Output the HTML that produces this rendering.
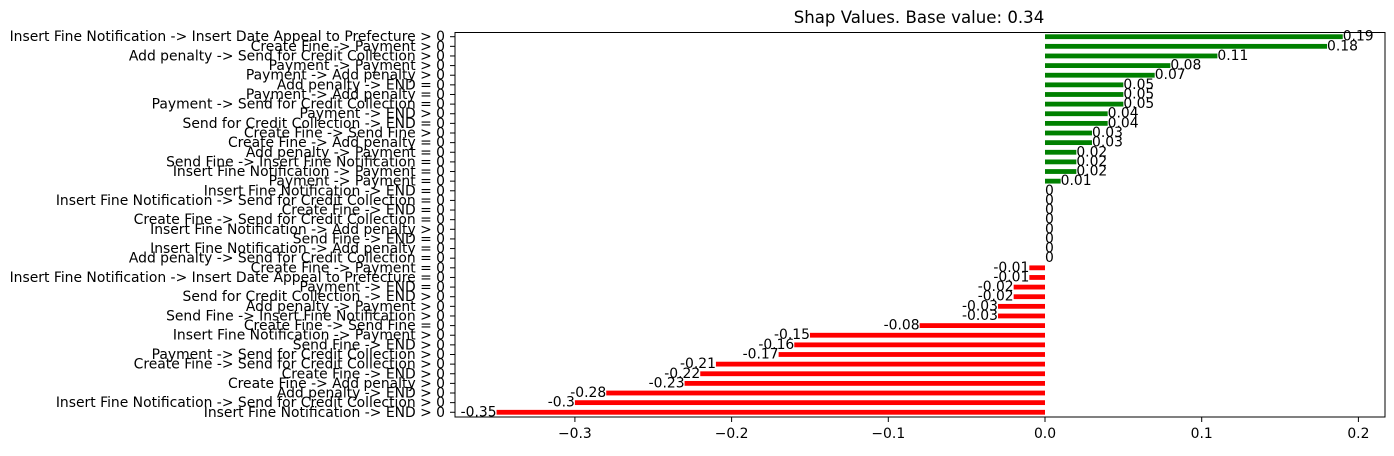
<!DOCTYPE html>
<html><head><meta charset="utf-8"><style>
html,body{margin:0;padding:0;background:#fff;}
svg text{font-family:"DejaVu Sans","Liberation Sans",sans-serif;font-size:13.9px;fill:#000;}
</style></head><body>
<svg id="chart" width="1394" height="451" xmlns="http://www.w3.org/2000/svg">
<text x="919" y="23" text-anchor="middle" style="font-size:16.6px">Shap Values. Base value: 0.34</text>
<g id="bars"></g>
<g id="ylabels"></g>
<g id="xticks"></g>
<rect x="455" y="32.5" width="930" height="384.5" fill="none" stroke="#000" stroke-width="1"/>
</svg>
<script>
const categories = [
"Insert Fine Notification -> Insert Date Appeal to Prefecture > 0",
"Create Fine -> Payment > 0",
"Add penalty -> Send for Credit Collection > 0",
"Payment -> Payment > 0",
"Payment -> Add penalty > 0",
"Add penalty -> END = 0",
"Payment -> Add penalty = 0",
"Payment -> Send for Credit Collection = 0",
"Payment -> END > 0",
"Send for Credit Collection -> END = 0",
"Create Fine -> Send Fine > 0",
"Create Fine -> Add penalty = 0",
"Add penalty -> Payment = 0",
"Send Fine -> Insert Fine Notification = 0",
"Insert Fine Notification -> Payment = 0",
"Payment -> Payment = 0",
"Insert Fine Notification -> END = 0",
"Insert Fine Notification -> Send for Credit Collection = 0",
"Create Fine -> END = 0",
"Create Fine -> Send for Credit Collection = 0",
"Insert Fine Notification -> Add penalty > 0",
"Send Fine -> END = 0",
"Insert Fine Notification -> Add penalty = 0",
"Add penalty -> Send for Credit Collection = 0",
"Create Fine -> Payment = 0",
"Insert Fine Notification -> Insert Date Appeal to Prefecture = 0",
"Payment -> END = 0",
"Send for Credit Collection -> END > 0",
"Add penalty -> Payment > 0",
"Send Fine -> Insert Fine Notification > 0",
"Create Fine -> Send Fine = 0",
"Insert Fine Notification -> Payment > 0",
"Send Fine -> END > 0",
"Payment -> Send for Credit Collection > 0",
"Create Fine -> Send for Credit Collection > 0",
"Create Fine -> END > 0",
"Create Fine -> Add penalty > 0",
"Add penalty -> END > 0",
"Insert Fine Notification -> Send for Credit Collection > 0",
"Insert Fine Notification -> END > 0"];
const values = [0.19,0.18,0.11,0.08,0.07,0.05,0.05,0.05,0.04,0.04,0.03,0.03,0.02,0.02,0.02,0.01,0,0,0,0,0,0,0,0,-0.01,-0.01,-0.02,-0.02,-0.03,-0.03,-0.08,-0.15,-0.16,-0.17,-0.21,-0.22,-0.23,-0.28,-0.3,-0.35];
const valueLabels = ["0.19","0.18","0.11","0.08","0.07","0.05","0.05","0.05","0.04","0.04","0.03","0.03","0.02","0.02","0.02","0.01","0","0","0","0","0","0","0","0","-0.01","-0.01","-0.02","-0.02","-0.03","-0.03","-0.08","-0.15","-0.16","-0.17","-0.21","-0.22","-0.23","-0.28","-0.3","-0.35"];
const xTicks = [-0.3,-0.2,-0.1,0,0.1,0.2];
const xTickLabels = ["\u22120.3","\u22120.2","\u22120.1","0.0","0.1","0.2"];

const NS="http://www.w3.org/2000/svg";
const x = v => 1045 + v*1567;
const y = i => 36.7 + i*9.63;
const bh = 4.8;
const gb=document.getElementById('bars'), gy=document.getElementById('ylabels'), gx=document.getElementById('xticks');
function mk(tag, attrs){const e=document.createElementNS(NS,tag);for(const k in attrs)e.setAttribute(k,attrs[k]);return e;}
values.forEach((v,i)=>{
  const r=mk('rect',{x:Math.min(x(0),x(v)),y:y(i)-bh/2,width:Math.abs(x(v)-x(0)),height:bh,fill:v>=0?'#008000':'#ff0000'});
  
  
  gb.appendChild(r);
  const t=mk('text',{x:x(v),y:y(i)+4,'text-anchor':v>=0?'start':'end'});
  t.textContent=valueLabels[i];
  
  
  gb.appendChild(t);
  const tk=mk('line',{x1:450,x2:455,y1:y(i),y2:y(i),stroke:'#000','stroke-width':1});
  
  
  gy.appendChild(tk);
  const l=mk('text',{x:445,y:y(i)+4.5,'text-anchor':'end'});
  l.textContent=categories[i];
  
  
  gy.appendChild(l);
});
xTicks.forEach((v,i)=>{
  const tk=mk('line',{x1:x(v),x2:x(v),y1:417,y2:422,stroke:'#000','stroke-width':1});
  
  
  gx.appendChild(tk);
  const t=mk('text',{x:x(v),y:438,'text-anchor':'middle'});
  t.textContent=xTickLabels[i];
  
  
  gx.appendChild(t);
});
</script>
</body></html>
